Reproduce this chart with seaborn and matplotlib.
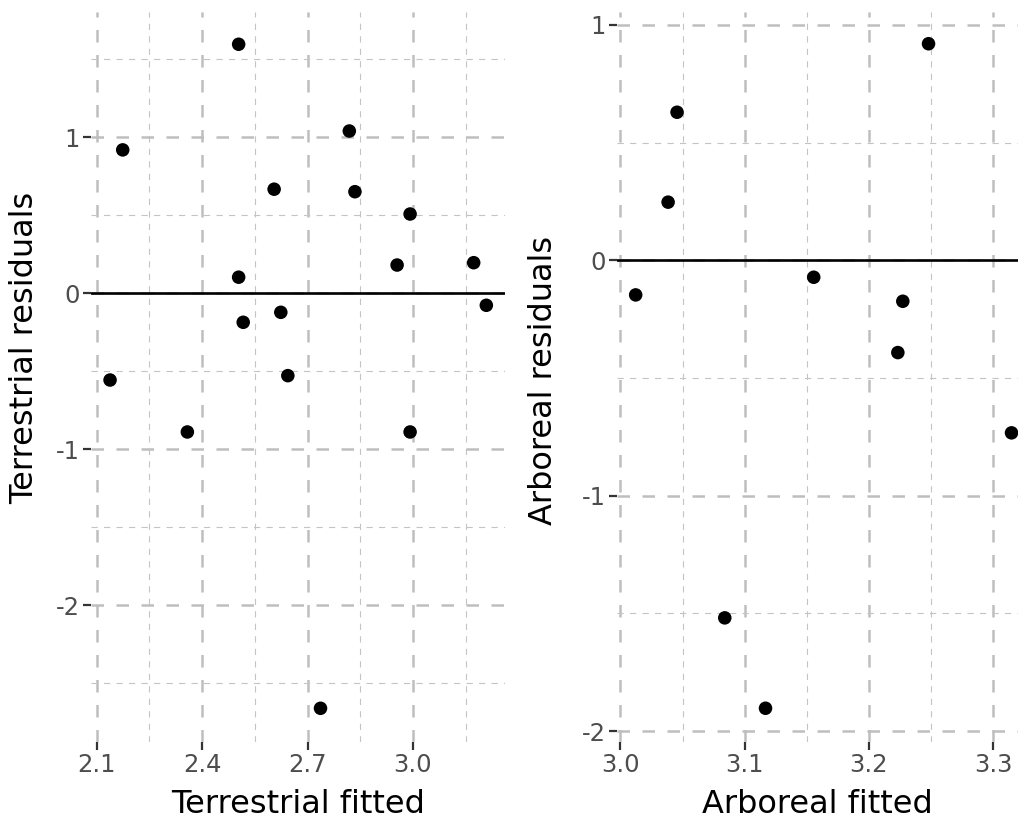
import matplotlib
matplotlib.use("Agg")
import matplotlib.pyplot as plt
import seaborn as sns
import numpy as np
import pandas as pd
from matplotlib.ticker import FixedLocator

# ---- data ----
terr_fitted = [2.174, 2.504, 2.819, 2.605, 2.835, 2.992, 2.955, 3.173, 2.504,
               2.624, 2.517, 3.209, 2.138, 2.644, 2.358, 2.992, 2.737]
terr_resid = [0.919, 1.596, 1.040, 0.667, 0.651, 0.508, 0.181, 0.196, 0.103,
              -0.122, -0.186, -0.077, -0.556, -0.528, -0.889, -0.889, -2.660]

arb_fitted = [3.248, 3.0456, 3.0384, 3.0123, 3.1556, 3.2273, 3.2233, 3.3148,
              3.0840, 3.1168]
arb_resid = [0.920, 0.629, 0.247, -0.147, -0.072, -0.174, -0.392, -0.733,
             -1.519, -1.903]

terr_xticks = [2.1, 2.4, 2.7, 3.0]
terr_xminor = [2.25, 2.55, 2.85, 3.15]
terr_yticks = [-2, -1, 0, 1]
terr_yminor = [-2.5, -1.5, -0.5, 0.5, 1.5]
terr_xticklabels = ["2.1", "2.4", "2.7", "3.0"]
terr_yticklabels = ["-2", "-1", "0", "1"]

arb_xticks = [3.0, 3.1, 3.2, 3.3]
arb_xminor = [3.05, 3.15, 3.25]
arb_yticks = [-2, -1, 0, 1]
arb_yminor = [-1.5, -0.5, 0.5]
arb_xticklabels = ["3.0", "3.1", "3.2", "3.3"]
arb_yticklabels = ["-2", "-1", "0", "1"]

sns.set_theme(style="white")
plt.rcParams["font.family"] = ["DejaVu Sans"]
plt.rcParams["lines.scale_dashes"] = False

fig = plt.figure(figsize=(10.23, 8.18), dpi=100)
ax1 = fig.add_axes([0.0887, 0.0933, 0.4049, 0.8915])
ax2 = fig.add_axes([0.6028, 0.0933, 0.3923, 0.8915])

major_kw = dict(color="#BEBEBE", linewidth=1.8, linestyle=(0, (9, 9)))
minor_kw = dict(color="#C4C4C4", linewidth=0.8, linestyle=(0, (4.5, 4.5)))


def panel(ax, x, y, xt, xm, yt, ym, xtl, ytl, xlim, ylim, xlabel, ylabel,
          ylab_xy, xlab_y):
    df = pd.DataFrame({"x": x, "y": y})
    ax.set_xlim(*xlim)
    ax.set_ylim(*ylim)
    ax.xaxis.set_major_locator(FixedLocator(xt))
    ax.yaxis.set_major_locator(FixedLocator(yt))
    ax.xaxis.set_minor_locator(FixedLocator(xm))
    ax.yaxis.set_minor_locator(FixedLocator(ym))
    ax.set_xticklabels(xtl)
    ax.set_yticklabels(ytl)
    ax.grid(True, which="minor", **minor_kw)
    ax.grid(True, which="major", **major_kw)
    ax.set_axisbelow(True)
    ax.axhline(0, color="black", linewidth=1.9, zorder=2)
    sns.scatterplot(data=df, x="x", y="y", ax=ax, color="black", s=95,
                    edgecolor="none", zorder=3)
    for s in ax.spines.values():
        s.set_visible(False)
    ax.tick_params(which="major", direction="out", length=5.5, width=1.6,
                   color="#333333", labelsize=17.5, labelcolor="#4D4D4D",
                   bottom=True, left=True, pad=2.5)
    ax.tick_params(which="minor", length=0, bottom=False, left=False)
    ax.set_xlabel(xlabel, fontsize=23, color="black")
    ax.set_ylabel(ylabel, fontsize=23, color="black")
    ax.yaxis.set_label_coords(*ylab_xy)
    ax.xaxis.set_label_coords(0.5, xlab_y)


panel(ax1, terr_fitted, terr_resid, terr_xticks, terr_xminor, terr_yticks,
      terr_yminor, terr_xticklabels, terr_yticklabels, (2.083, 3.262),
      (-2.874, 1.80), "Terrestrial fitted", "Terrestrial residuals",
      (-0.1224, 0.54), -0.0648)
panel(ax2, arb_fitted, arb_resid, arb_xticks, arb_xminor, arb_yticks,
      arb_yminor, arb_xticklabels, arb_yticklabels, (2.997, 3.320),
      (-2.045, 1.053), "Arboreal fitted", "Arboreal residuals",
      (-0.1438, 0.4957), -0.0648)

fig.savefig("out.png", dpi=100)
